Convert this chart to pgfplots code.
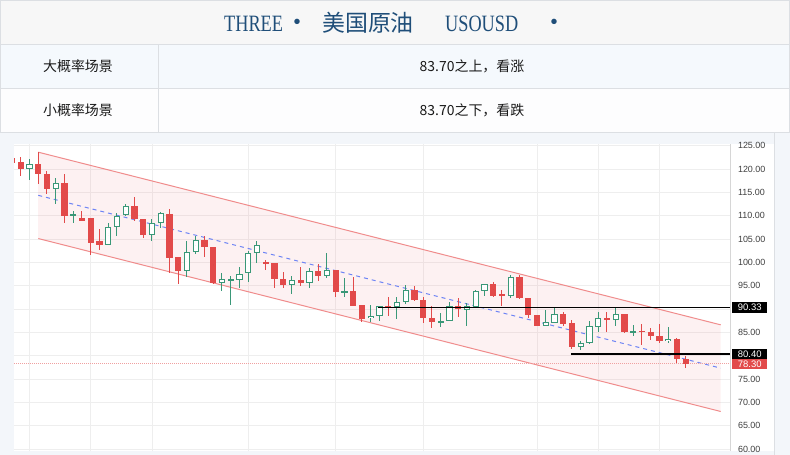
\documentclass[border=0pt]{standalone}
\usepackage{fontspec}
\usepackage{pgfplots}
\pgfplotsset{compat=1.18}
\usepackage{pgfplotstable}
\setmainfont{Liberation Sans}
\newfontfamily\cjk{Noto Sans CJK SC}
\newfontfamily\titleserif[FakeStretch=0.78]{Liberation Serif}
\definecolor{cred}{HTML}{E24A4A}
\definecolor{cgreen}{HTML}{3A9878}
\definecolor{chan}{HTML}{F08C8C}
\definecolor{chanfillc}{RGB}{240,80,90}
\definecolor{midblue}{HTML}{6E84F5}
\definecolor{gridc}{HTML}{EEEEEE}
\definecolor{titleblue}{HTML}{1F4E79}
\definecolor{borderc}{HTML}{DCDFE3}
\definecolor{panelbg}{HTML}{F3F6FA}
\definecolor{titlebg}{HTML}{F7F7F7}
\definecolor{rowa}{HTML}{F5F9FD}
\definecolor{rowb}{HTML}{FDFDFE}
\definecolor{tickc}{HTML}{404040}
\definecolor{dotred}{HTML}{F0A0A0}
\newcommand\tlf{\fontsize{9}{9}\selectfont}

\pgfplotstableread{
i O H L C
0 122.4 122.6 121.2 121.4
1 121.5 122.6 118.5 120.1
3 121.2 123.65 116.9 119.0
4 119.0 119.6 114.7 115.8
6 117.1 119.0 108.5 110.0
8 109.6 111.1 108.9 108.9
9 109.6 109.6 101.7 104.2
10 104.7 107.1 102.6 103.85
14 112.1 114.0 109.0 109.4
15 109.4 109.4 105.3 106.0
18 110.4 111.4 97.7 100.9
19 101.1 101.1 95.4 98.1
22 104.9 105.6 101.1 103.4
23 103.4 103.4 95.4 95.6
29 100.1 100.6 98.4 99.9
30 100.0 100.0 94.6 96.5
31 96.5 97.9 94.5 95.1
33 96.3 99.1 94.9 95.6
35 98.2 99.6 96.1 97.2
37 98.4 98.4 92.7 93.65
39 93.9 96.8 90.6 90.7
40 90.9 90.9 87.2 87.9
43 90.6 92.7 88.6 90.4
46 94.1 94.9 91.7 92.0
47 92.0 92.7 87.0 88.1
48 88.1 90.6 86.0 87.2
51 90.6 92.4 88.4 90.0
55 95.4 95.9 92.7 92.9
56 93.1 94.1 90.6 93.0
58 96.8 97.4 92.2 92.4
59 92.4 92.4 88.2 88.8
60 88.8 88.8 86.3 86.5
63 89.0 89.3 86.4 86.9
64 87.0 87.7 81.4 81.9
68 88.1 89.3 85.2 87.6
70 89.0 89.0 84.9 85.1
72 85.4 86.9 82.4 85.1
73 85.1 85.9 83.3 84.3
74 84.3 86.9 82.7 83.1
76 83.6 83.8 78.4 79.3
77 79.3 80.0 77.4 78.3
}\down

\pgfplotstableread{
i O H L C
2 120.1 122.2 117.6 121.1
5 115.8 118.1 112.6 117.1
7 110.0 111.0 108.5 110.4
11 103.85 108.5 103.85 107.6
12 107.6 110.6 105.65 110.0
13 110.1 112.6 109.9 112.1
16 106.0 109.4 104.6 108.4
17 108.4 110.9 107.4 110.6
20 98.2 104.6 96.8 102.2
21 102.2 105.6 101.8 104.9
24 95.7 97.7 93.8 96.4
25 96.2 97.1 90.9 96.4
26 96.3 99.1 94.6 97.6
27 97.7 102.4 95.9 102.0
28 102.0 104.6 99.9 103.8
32 95.1 97.1 93.2 96.3
34 95.6 98.9 94.5 98.2
36 97.2 102.0 96.6 98.4
38 93.7 96.6 92.7 93.8
41 88.1 90.9 87.2 88.6
42 88.6 90.7 87.4 90.6
44 90.5 92.7 87.9 91.5
45 91.5 95.1 91.1 94.1
49 87.3 89.1 86.1 87.4
50 87.4 91.5 87.4 90.6
52 89.9 91.3 86.4 90.6
53 90.4 94.1 90.4 93.8
54 93.8 95.4 92.9 95.4
57 92.9 97.4 92.4 96.8
61 86.5 89.9 86.3 87.2
62 87.1 90.4 87.1 89.0
65 82.0 83.1 81.3 82.7
66 82.7 87.4 82.6 86.3
67 86.1 89.3 85.2 88.1
69 87.7 90.4 86.3 89.0
71 85.1 86.6 84.3 85.2
75 83.1 86.1 82.7 83.6
}\up

\pgfplotsset{candle/.style={forget plot, only marks, mark=*, mark size=0pt,
  mark options={draw=none, fill=none},
  error bars/.cd, y dir=both, y explicit, error mark=none}}

\begin{document}
\begin{tikzpicture}
\path[use as bounding box] (0,0) rectangle (790bp,-455bp);
% ---- header table ----
\fill[panelbg] (0,-132bp) rectangle (790bp,-455bp);
\fill[titlebg] (0,0) rectangle (790bp,-44bp);
\fill[rowa] (0,-44bp) rectangle (790bp,-88bp);
\fill[rowb] (0,-88bp) rectangle (790bp,-132bp);
\draw[borderc, line width=1bp] (0.5bp,-0.5bp) rectangle (789.5bp,-132bp);
\draw[borderc, line width=1bp] (0,-44bp) -- (790bp,-44bp);
\draw[borderc, line width=1bp] (0,-88bp) -- (790bp,-88bp);
\draw[borderc, line width=1bp] (158bp,-44bp) -- (158bp,-132bp);
% title
\node[anchor=base west, inner sep=0, text=titleblue, font=\titleserif\fontsize{23.5}{24}\selectfont] at (224bp,-31bp) {THREE};
\node[inner sep=0, text=titleblue, font=\fontsize{20}{20}\selectfont] at (297bp,-24bp) {•};
\node[anchor=west, inner sep=0, text=titleblue, font=\cjk\fontsize{23}{24}\selectfont] at (322bp,-23bp) {美国原油};
\node[anchor=base west, inner sep=0, text=titleblue, font=\titleserif\fontsize{23.5}{24}\selectfont] at (445bp,-31bp) {USOUSD};
\node[inner sep=0, text=titleblue, font=\fontsize{20}{20}\selectfont] at (554bp,-24bp) {•};
% rows
\node[inner sep=0, text=black!90, font=\cjk\fontsize{14}{15}\selectfont] at (78bp,-66bp) {大概率场景};
\node[inner sep=0, text=black!90, font=\cjk\fontsize{14}{15}\selectfont] at (78bp,-110bp) {小概率场景};
\node[inner sep=0, text=black!90, font=\cjk\fontsize{14}{15}\selectfont] at (472bp,-66bp) {83.70之上，看涨};
\node[inner sep=0, text=black!90, font=\cjk\fontsize{14}{15}\selectfont] at (472bp,-110bp) {83.70之下，看跌};
% chart panel
\fill[white] (14bp,-144bp) rectangle (774bp,-451bp);
\draw[borderc, line width=0.8bp] (774bp,-132bp) -- (774bp,-455bp);
\draw[gridc!90!black, line width=0.8bp] (730bp,-144bp) -- (730bp,-451bp);

\begin{axis}[
  at={(14bp,-451bp)}, anchor=south west,
  width=716bp, height=307bp, scale only axis,
  xmin=0.2286, xmax=82.06, ymin=59.6, ymax=125.4,
  axis line style={draw=none},
  xtick=\empty,
  ytick={60,65,70,75,85,95,100,105,110,115,120,125},
  yticklabel pos=right,
  ymajorgrids,
  grid style={draw=gridc, line width=0.9bp},
  major tick length=0pt,
  yticklabel style={font=\tlf, text=tickc, anchor=west, xshift=4.5bp,
    /pgf/number format/fixed, /pgf/number format/fixed zerofill,
    /pgf/number format/precision=2, /pgf/number format/assume math mode=true},
]
% vertical grid and hidden-label grid lines
\pgfplotsinvokeforeach{2,9,16,27,37,47,60,67,74}{
  \addplot[forget plot, gridc, line width=0.9bp] coordinates {(#1,59.6) (#1,125.4)};
}
\addplot[forget plot, gridc, line width=0.9bp] coordinates {(0.2286,80) (82.06,80)};
\addplot[forget plot, gridc, line width=0.9bp] coordinates {(0.2286,90) (82.06,90)};
% channel
\addplot[forget plot, draw=none, fill=chanfillc, fill opacity=0.08]
  coordinates {(3,123.65) (81,86.64) (81,68.07) (3,105.14)} -- cycle;
\addplot[forget plot, chan, line width=1bp] coordinates {(3,123.65) (81,86.64)};
\addplot[forget plot, chan, line width=1bp] coordinates {(3,105.14) (81,68.07)};
\addplot[forget plot, midblue, line width=1bp, dash pattern=on 4bp off 4bp] coordinates {(3,114.4) (81,77.36)};
% last price dotted line
\addplot[forget plot, dotred, line width=1bp, dash pattern=on 1bp off 1bp] coordinates {(0.2286,78.3) (82.06,78.3)};
% down candles
\addplot[candle, error bar style={draw=cred, line width=1bp}]
  table[x=i, y expr={(\thisrow{H}+\thisrow{L})/2}, y error expr={(\thisrow{H}-\thisrow{L})/2}]{\down};
\addplot[candle, error bar style={draw=cred, line width=6.2bp}]
  table[x=i, y expr={(\thisrow{O}+\thisrow{C})/2}, y error expr={max(abs(\thisrow{O}-\thisrow{C})/2,0.12)}]{\down};
% up candles
\addplot[candle, error bar style={draw=cgreen, line width=1bp}]
  table[x=i, y expr={(\thisrow{H}+\thisrow{L})/2}, y error expr={(\thisrow{H}-\thisrow{L})/2}]{\up};
\addplot[candle, error bar style={draw=cgreen, line width=6.2bp}]
  table[x=i, y expr={(\thisrow{O}+\thisrow{C})/2}, y error expr={max(abs(\thisrow{O}-\thisrow{C})/2,0.12)}]{\up};
\addplot[candle, error bar style={draw=white, line width=4.2bp}]
  table[x=i, y expr={(\thisrow{O}+\thisrow{C})/2}, y error expr={max(abs(\thisrow{O}-\thisrow{C})/2-0.214,0)}]{\up};
% horizontal levels
\addplot[forget plot, black, line width=1.3bp] coordinates {(41.8,90.33) (82.06,90.33)};
\addplot[forget plot, black, line width=1.3bp] coordinates {(63.9,80.40) (82.06,80.40)};
\coordinate (pA) at (axis cs:82.06,90.33);
\coordinate (pB) at (axis cs:82.06,80.40);
\coordinate (pC) at (axis cs:82.06,78.30);
\end{axis}
\node[anchor=west, fill=black, text=white, inner sep=0, minimum width=35bp, minimum height=10.5bp, font=\fontsize{9.5}{9.5}\selectfont] at ([xshift=2bp]pA) {90.33};
\node[anchor=west, fill=black, text=white, inner sep=0, minimum width=35bp, minimum height=10.5bp, font=\fontsize{9.5}{9.5}\selectfont] at ([xshift=2bp]pB) {80.40};
\node[anchor=west, fill=cred, text=white, inner sep=0, minimum width=35bp, minimum height=10.5bp, font=\fontsize{9.5}{9.5}\selectfont] at ([xshift=2bp]pC) {78.30};
\end{tikzpicture}
\end{document}
